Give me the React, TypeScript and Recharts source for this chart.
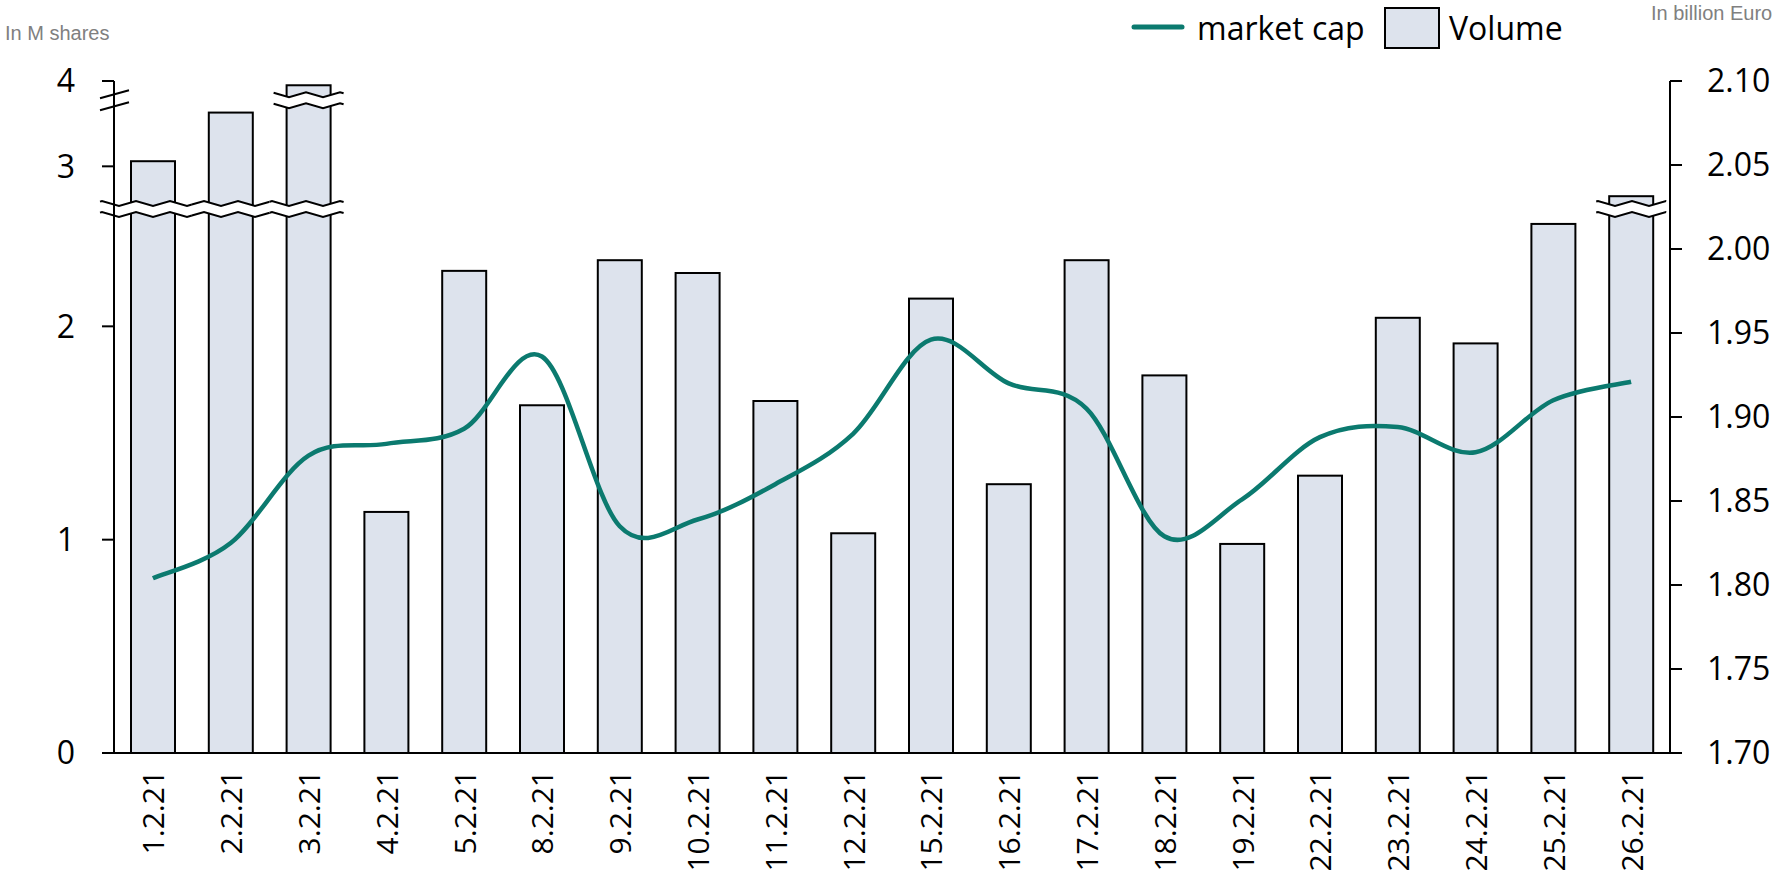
import React from 'react'
import { ComposedChart, Bar, Line, XAxis, YAxis } from 'recharts'

const dates = [
  '1.2.21', '2.2.21', '3.2.21', '4.2.21', '5.2.21', '8.2.21', '9.2.21', '10.2.21', '11.2.21', '12.2.21',
  '15.2.21', '16.2.21', '17.2.21', '18.2.21', '19.2.21', '22.2.21', '23.2.21', '24.2.21', '25.2.21', '26.2.21'
]
// trading volume, in M shares
const volume = [3.06, 3.63, 3.95, 1.13, 2.26, 1.63, 2.31, 2.25, 1.65, 1.03, 2.13, 1.26, 2.31, 1.77, 0.98, 1.3, 2.04, 1.92, 2.48, 2.65]
// market cap, in billion Euro
const marketCap = [1.804, 1.825, 1.877, 1.884, 1.893, 1.936, 1.835, 1.839, 1.86, 1.89, 1.946, 1.92, 1.905, 1.829, 1.851, 1.888, 1.894, 1.879, 1.91, 1.921]
const leftTicks = [0, 1, 2, 3, 4]
const rightTicks = [1.7, 1.75, 1.8, 1.85, 1.9, 1.95, 2.0, 2.05, 2.1]

const TEAL = '#0b7a6f'
const BAR_FILL = '#dde3ed'
const FONT = '"Open Sans", "Noto Sans", sans-serif'

// broken left axis: linear up to 2.5, compressed above
const toAxis = (v: number) => (v <= 2.5 ? v : 2.55 + (v - 2.5) * 0.4)
const LOW_BREAK = 2.55
const HIGH_BREAK = 3.06

const PLOT_LEFT = 114
const PLOT_RIGHT = 1670
const BAND = (PLOT_RIGHT - PLOT_LEFT) / dates.length

const data = dates.map((d, i) => ({ date: d, vol: toAxis(volume[i]), cap: marketCap[i] }))
const leftTickPos = leftTicks.map(toAxis)

// excel-style smoothed line (catmull-rom through the points)
const smoothCurve = (ctx: any) => {
  let pts: number[][] = []
  return {
    areaStart() {},
    areaEnd() {},
    lineStart() {
      pts = []
    },
    point(x: number, y: number) {
      pts.push([+x, +y])
    },
    lineEnd() {
      if (!pts.length) return
      ctx.moveTo(pts[0][0], pts[0][1])
      for (let i = 0; i < pts.length - 1; i++) {
        const p0 = pts[i - 1] || pts[i]
        const p1 = pts[i]
        const p2 = pts[i + 1]
        const p3 = pts[i + 2] || p2
        ctx.bezierCurveTo(
          p1[0] + (p2[0] - p0[0]) / 6,
          p1[1] + (p2[1] - p0[1]) / 6,
          p2[0] - (p3[0] - p1[0]) / 6,
          p2[1] - (p3[1] - p1[1]) / 6,
          p2[0],
          p2[1]
        )
      }
    }
  }
}

const tri = (px: number) => {
  const w = (((px % 34) + 34) % 34) / 34
  return w < 0.5 ? 4 * w - 1 : 3 - 4 * w
}

function wave(x0: number, x1: number, y: number) {
  const xs = [x0]
  for (let px = Math.ceil(x0 / 17) * 17; px < x1; px += 17) if (px > x0) xs.push(px)
  xs.push(x1)
  return xs.map((px) => [px, y + 2.5 * tri(px)])
}

function BreakBand({ x0, x1, y }: { x0: number; x1: number; y: number }) {
  const top = wave(x0, x1, y - 5.5)
  const bot = wave(x0, x1, y + 5.5)
  const poly = [...top, ...bot.slice().reverse()].map((p) => p.join(',')).join(' ')
  return (
    <g>
      <polygon points={poly} fill="#fff" stroke="none" />
      <polyline points={top.map((p) => p.join(',')).join(' ')} fill="none" stroke="#000" strokeWidth={2} />
      <polyline points={bot.map((p) => p.join(',')).join(' ')} fill="none" stroke="#000" strokeWidth={2} />
    </g>
  )
}

const VolumeBar = (props: any) => {
  const { x, y, width, height, index, payload } = props
  const base = y + height
  const unit = height / payload.vol
  const gap = (BAND - width) / 2
  const lowY = base - LOW_BREAK * unit
  const highY = base - HIGH_BREAK * unit
  return (
    <g>
      <rect x={x} y={y} width={width} height={height} fill={BAR_FILL} stroke="#000" strokeWidth={2} />
      {payload.vol > LOW_BREAK && (
        <BreakBand
          x0={index === 0 ? PLOT_LEFT - 14 : index <= 2 ? x - gap : x - 13}
          x1={index < 2 ? x + width + gap : x + width + 13}
          y={lowY}
        />
      )}
      {payload.vol > HIGH_BREAK && <BreakBand x0={x - 13} x1={x + width + 13} y={highY} />}
      {index === 0 && (
        <g>
          <rect x={PLOT_LEFT - 4} y={highY - 6} width={8} height={12} fill="#fff" />
          <line x1={PLOT_LEFT - 14} y1={highY - 2} x2={PLOT_LEFT + 15} y2={highY - 10} stroke="#000" strokeWidth={2} />
          <line x1={PLOT_LEFT - 14} y1={highY + 10} x2={PLOT_LEFT + 15} y2={highY + 2} stroke="#000" strokeWidth={2} />
        </g>
      )}
    </g>
  )
}

const DateTick = ({ x, y, payload }: any) => (
  <text
    x={x}
    y={y}
    transform={`rotate(-90, ${x}, ${y})`}
    textAnchor="end"
    dominantBaseline="central"
    fontSize={30}
    fontFamily={FONT}
    fill="#000"
  >
    {payload.value}
  </text>
)

const leftLabel = (v: number) => {
  const i = leftTickPos.findIndex((p) => Math.abs(p - v) < 1e-6)
  return i >= 0 ? String(leftTicks[i]) : ''
}

export default function App() {
  return (
    <div style={{ position: 'fixed', left: 0, top: 0, width: 1781, height: 881, background: '#fff' }}>
      <ComposedChart
        width={1781}
        height={881}
        data={data}
        margin={{ top: 81, right: 0, bottom: 0, left: 0 }}
        barSize={44}
      >
        <XAxis
          dataKey="date"
          height={128}
          tickLine={false}
          tickSize={0}
          tickMargin={17}
          interval={0}
          axisLine={{ stroke: '#000', strokeWidth: 2 }}
          tick={<DateTick />}
        />
        <YAxis
          yAxisId="left"
          width={114}
          domain={[0, 3.15]}
          ticks={leftTickPos}
          tickFormatter={leftLabel}
          tickSize={12}
          tickMargin={27}
          axisLine={{ stroke: '#000', strokeWidth: 2 }}
          tickLine={{ stroke: '#000', strokeWidth: 2 }}
          tick={{ fontSize: 32, fill: '#000', fontFamily: FONT }}
          allowDataOverflow
        />
        <YAxis
          yAxisId="right"
          orientation="right"
          width={111}
          domain={[1.7, 2.1]}
          ticks={rightTicks}
          tickFormatter={(v: number) => v.toFixed(2)}
          tickSize={12}
          tickMargin={25}
          axisLine={{ stroke: '#000', strokeWidth: 2 }}
          tickLine={{ stroke: '#000', strokeWidth: 2 }}
          tick={{ fontSize: 32, fill: '#000', fontFamily: FONT }}
        />
        <Bar yAxisId="left" dataKey="vol" shape={<VolumeBar />} isAnimationActive={false} />
        <Line
          yAxisId="right"
          type={smoothCurve as any}
          dataKey="cap"
          stroke={TEAL}
          strokeWidth={4.5}
          dot={false}
          activeDot={false}
          isAnimationActive={false}
        />
      </ComposedChart>
      <svg width={1781} height={881} style={{ position: 'absolute', left: 0, top: 0, pointerEvents: 'none' }}>
        <text x={5} y={40} fontSize={20} fontFamily="Liberation Sans, Arial, sans-serif" fill="#808080">
          In M shares
        </text>
        <text x={1651} y={20} fontSize={20} fontFamily="Liberation Sans, Arial, sans-serif" fill="#808080">
          In billion Euro
        </text>
        <line x1={1134} y1={27} x2={1182} y2={27} stroke={TEAL} strokeWidth={5} strokeLinecap="round" />
        <text x={1197} y={40} fontSize={32} fontFamily={FONT} fill="#000">
          market cap
        </text>
        <rect x={1385} y={8} width={54} height={40} fill={BAR_FILL} stroke="#000" strokeWidth={2} />
        <text x={1449} y={40} fontSize={32} fontFamily={FONT} fill="#000">
          Volume
        </text>
      </svg>
    </div>
  )
}
